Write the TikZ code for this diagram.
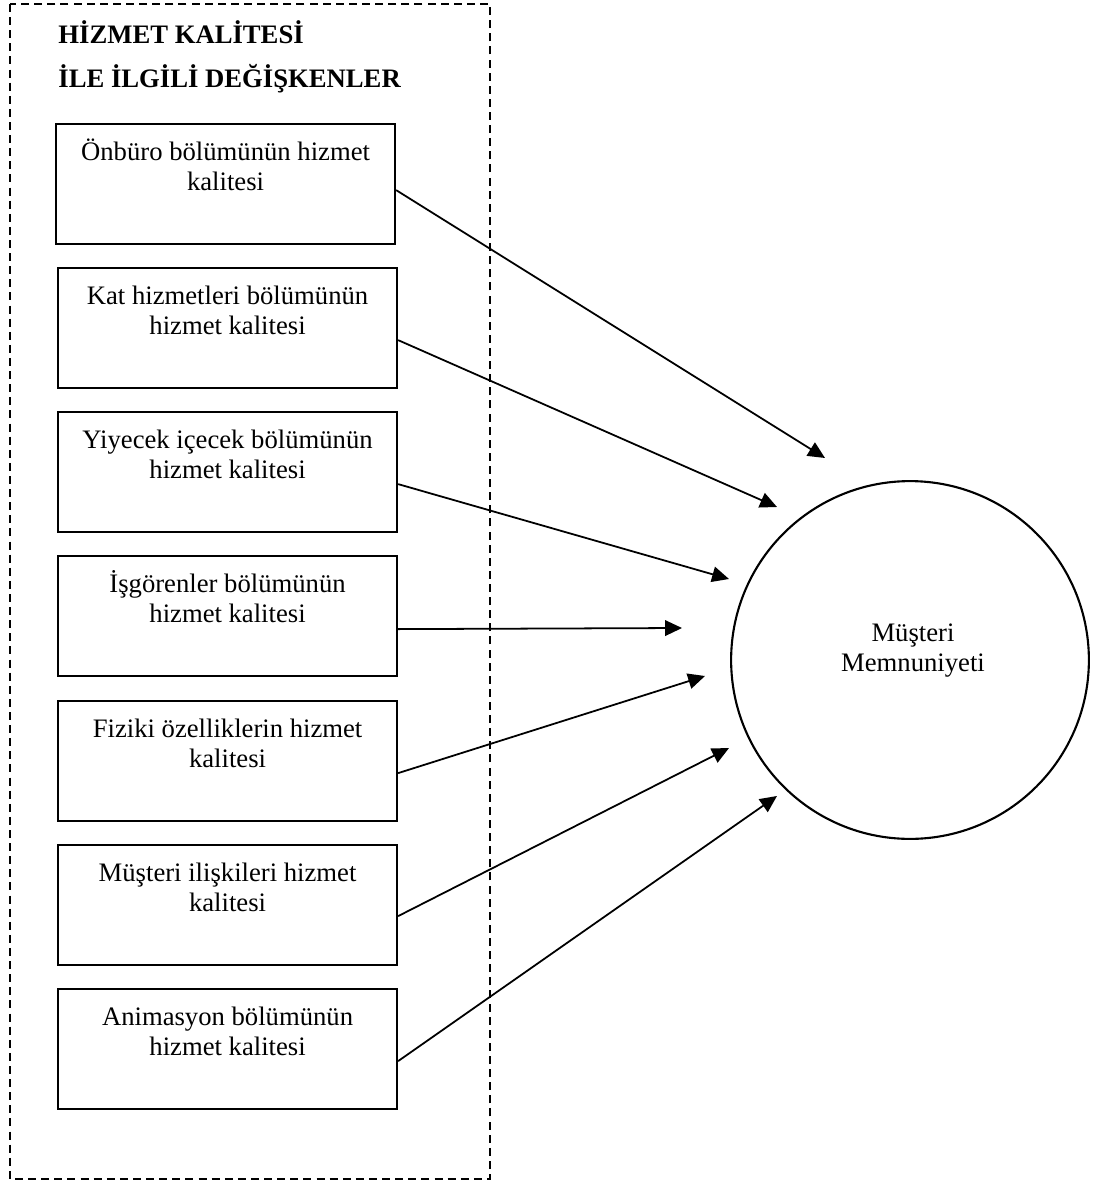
\documentclass[tikz,border=0pt]{standalone}
\usepackage{fontspec}
\setmainfont{Liberation Serif}
\usetikzlibrary{arrows.meta,calc}
\begin{document}
\begin{tikzpicture}[x=0.45pt,y=-0.45pt,
  frame/.style={draw,dash pattern=on 3.6pt off 2.3pt,line width=0.85pt},
  varbox/.style={draw,line width=1pt,minimum width=152.5pt,minimum height=54pt,inner sep=0pt,anchor=north west},
  vartext/.style={anchor=north,align=center,inner sep=0pt,font=\fontsize{12}{13.5}\selectfont},
  titletext/.style={anchor=base west,inner sep=0pt,font=\bfseries\fontsize{12}{14}\selectfont},
  conn/.style={line width=0.8pt,-{Triangle[length=7.6pt,width=7pt]}}
]
\useasboundingbox (0,0) rectangle (1092,1181);
% dashed group frame
\draw[frame] (10,4) rectangle (490,1179);
% titles
\node[titletext] (title1) at (58,44) {HİZMET KALİTESİ};
\node[titletext] (title2) at (58,88) {İLE İLGİLİ DEĞİŞKENLER};
% boxes
\node[varbox] (b1) at (55,123) {};
\node[varbox] (b2) at (57,267) {};
\node[varbox] (b3) at (57,411) {};
\node[varbox] (b4) at (57,555) {};
\node[varbox] (b5) at (57,700) {};
\node[varbox] (b6) at (57,844) {};
\node[varbox] (b7) at (57,988) {};
% box texts
\node[vartext] (t1) at ($(b1.north)+(0,10.3)$) {\rule{0pt}{12pt}Önbüro bölümünün hizmet\\kalitesi};
\node[vartext] (t2) at ($(b2.north)+(0,10.3)$) {\rule{0pt}{12pt}Kat hizmetleri bölümünün\\hizmet kalitesi};
\node[vartext] (t3) at ($(b3.north)+(0,10.3)$) {\rule{0pt}{12pt}Yiyecek içecek bölümünün\\hizmet kalitesi};
\node[vartext] (t4) at ($(b4.north)+(0,10.3)$) {\rule{0pt}{12pt}İşgörenler bölümünün\\hizmet kalitesi};
\node[vartext] (t5) at ($(b5.north)+(0,10.3)$) {\rule{0pt}{12pt}Fiziki özelliklerin hizmet\\kalitesi};
\node[vartext] (t6) at ($(b6.north)+(0,10.3)$) {\rule{0pt}{12pt}Müşteri ilişkileri hizmet\\kalitesi};
\node[vartext] (t7) at ($(b7.north)+(0,10.3)$) {\rule{0pt}{12pt}Animasyon bölümünün\\hizmet kalitesi};
% circle
\node[circle,draw,line width=0.95pt,minimum size=161pt,inner sep=0pt] (ms) at (910,660) {};
\node[vartext] (mst) at (913,614.3) {\rule{0pt}{12pt}Müşteri\\Memnuniyeti};
% arrow end points
\coordinate (e1) at (825,458);
\coordinate (e2) at (777,507);
\coordinate (e3) at (729,579);
\coordinate (e4) at (682,628);
\coordinate (e5) at (705,676);
\coordinate (e6) at (729,748);
\coordinate (e7) at (777,796);
% connectors
\draw[conn] ($(b1.east)+(0,6)$) -- (e1);
\draw[conn] ($(b2.east)+(0,12)$) -- (e2);
\draw[conn] ($(b3.east)+(0,12)$) -- (e3);
\draw[conn] ($(b4.east)+(0,13)$) -- (e4);
\draw[conn] ($(b5.east)+(0,12)$) -- (e5);
\draw[conn] ($(b6.east)+(0,11)$) -- (e6);
\draw[conn] ($(b7.east)+(0,12)$) -- (e7);
\end{tikzpicture}
\end{document}
